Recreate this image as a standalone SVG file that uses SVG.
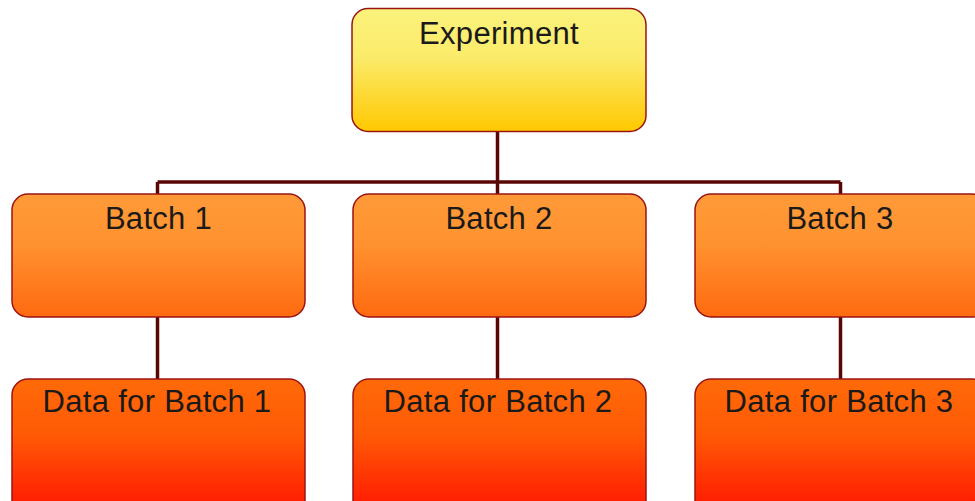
<svg xmlns="http://www.w3.org/2000/svg" width="975" height="501" viewBox="0 0 975 501">
<defs>
<linearGradient id="gY" x1="0" y1="0" x2="0" y2="1">
<stop offset="0" stop-color="#faf27c"/><stop offset="0.4" stop-color="#fbeb6a"/><stop offset="1" stop-color="#ffc800"/>
</linearGradient>
<linearGradient id="gO" x1="0" y1="0" x2="0" y2="1">
<stop offset="0" stop-color="#ff9a38"/><stop offset="0.4" stop-color="#ff9230"/><stop offset="1" stop-color="#ff6a10"/>
</linearGradient>
<linearGradient id="gR" x1="0" y1="0" x2="0" y2="1">
<stop offset="0" stop-color="#ff6a08"/><stop offset="0.4" stop-color="#ff5a06"/><stop offset="1" stop-color="#ff1000"/>
</linearGradient>
</defs>
<style>
.box{stroke:#9a1414;stroke-width:1.5}
.lbl{font-family:"Liberation Sans",Arial,sans-serif;font-size:31px;letter-spacing:0.3px;fill:#1a1a1a;text-anchor:middle}
.conn{stroke:#5a0606;stroke-width:3.5;fill:none}
</style>
<g id="connectors">
<path class="conn" d="M497.5 132 V182"/>
<path class="conn" d="M157.5 182 H840.5"/>
<path class="conn" d="M157.5 182 V194"/>
<path class="conn" d="M497.5 182 V194"/>
<path class="conn" d="M840.5 182 V194"/>
<path class="conn" d="M157.5 317 V379"/>
<path class="conn" d="M497.5 317 V379"/>
<path class="conn" d="M840.5 317 V379"/>
</g>
<g id="experiment">
<rect class="box" x="352" y="8.5" width="294" height="123" rx="16" fill="url(#gY)"/>
<text class="lbl" x="499" y="44">Experiment</text>
</g>
<g id="batch1">
<rect class="box" x="12" y="194" width="293" height="123" rx="16" fill="url(#gO)"/>
<text class="lbl" x="158.5" y="229">Batch 1</text>
</g>
<g id="batch2">
<rect class="box" x="353" y="194" width="293" height="123" rx="16" fill="url(#gO)"/>
<text class="lbl" x="499" y="229">Batch 2</text>
</g>
<g id="batch3">
<rect class="box" x="695" y="194" width="293" height="123" rx="16" fill="url(#gO)"/>
<text class="lbl" x="840" y="229">Batch 3</text>
</g>
<g id="data1">
<rect class="box" x="12" y="379" width="293" height="140" rx="16" fill="url(#gR)"/>
<text class="lbl" x="157" y="412">Data for Batch 1</text>
</g>
<g id="data2">
<rect class="box" x="353" y="379" width="293" height="140" rx="16" fill="url(#gR)"/>
<text class="lbl" x="498" y="412">Data for Batch 2</text>
</g>
<g id="data3">
<rect class="box" x="695" y="379" width="293" height="140" rx="16" fill="url(#gR)"/>
<text class="lbl" x="839" y="412">Data for Batch 3</text>
</g>
</svg>
